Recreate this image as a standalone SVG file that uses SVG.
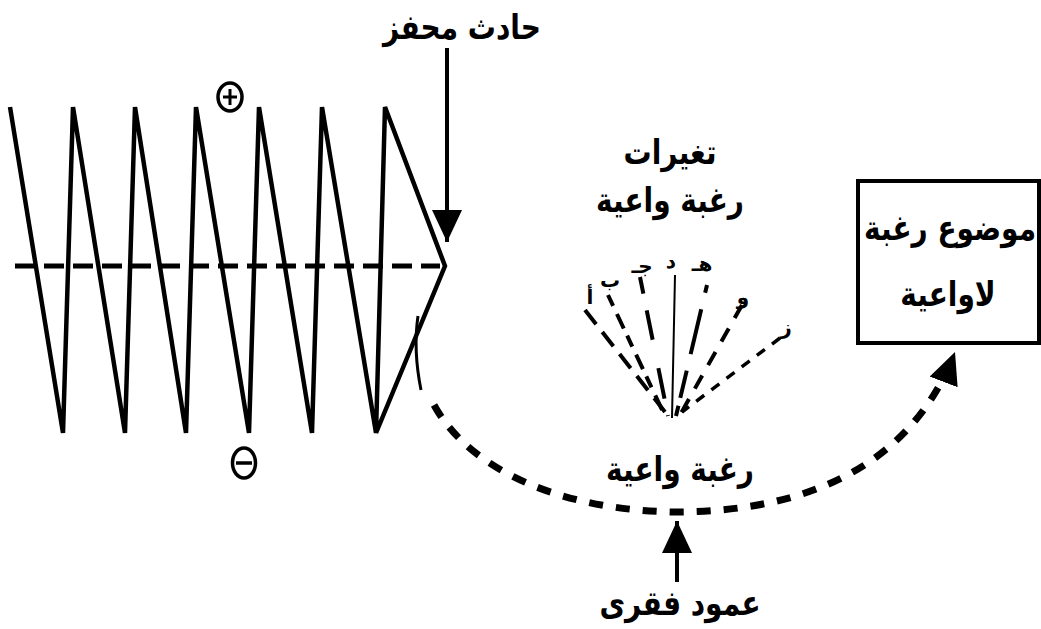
<svg xmlns="http://www.w3.org/2000/svg" width="1041" height="629" viewBox="0 0 1041 629">
<style>
  .t { font-family: "DejaVu Sans", "Noto Sans", sans-serif; font-weight: bold; fill: #000; text-anchor: middle; }
  .big { font-size: 28px; }
  .sm { font-size: 20px; }
  .ln { stroke: #000; fill: none; stroke-linecap: butt; stroke-linejoin: miter; }
</style>
<defs>
  <marker id="ah" viewBox="0 0 32 30" refX="32" refY="15" markerWidth="32" markerHeight="30" markerUnits="userSpaceOnUse" orient="auto">
    <path d="M0,0 L32,15 L0,30 z" fill="#000"/>
  </marker>
</defs>
<rect width="1041" height="629" fill="#fff"/>

<g id="zigzag">
  <polyline class="ln" stroke-width="4.5" points="10,107 63,433 73,107 125,433 135,107 186,433 196,107 249,433 259,107 312,433 322,107 376,433 385,107 445,266 376,433"/>
  <line class="ln" x1="15" y1="266" x2="440" y2="266" stroke-width="5" stroke-dasharray="20 9"/>
</g>

<g id="plus">
  <ellipse cx="230" cy="97" rx="12" ry="14" fill="none" stroke="#000" stroke-width="3.5"/>
  <line x1="223" y1="97" x2="237" y2="97" stroke="#000" stroke-width="3"/>
  <line x1="230" y1="89" x2="230" y2="105" stroke="#000" stroke-width="3"/>
</g>

<g id="minus">
  <ellipse cx="244" cy="463" rx="11.5" ry="15" fill="none" stroke="#000" stroke-width="3.5"/>
  <line x1="236" y1="463" x2="252" y2="463" stroke="#000" stroke-width="3.5"/>
</g>

<g id="trigger">
  <text class="t big" transform="translate(462,39) scale(1,1.22)">حادث محفز</text>
</g>

<g id="fan">
  <text class="t big" transform="translate(670,164) scale(1,1.22)">تغيرات</text>
  <text class="t big" transform="translate(670,212) scale(1,1.22)">رغبة واعية</text>
  <line class="ln" x1="585" y1="310" x2="665" y2="412" stroke-width="4" stroke-dasharray="18 10"/>
  <line class="ln" x1="608" y1="295" x2="664" y2="414" stroke-width="4" stroke-dasharray="12 9 16 8"/>
  <line class="ln" x1="640" y1="277" x2="668" y2="416" stroke-width="4" stroke-dasharray="17 17 30 29 31"/>
  <line class="ln" x1="675" y1="275" x2="672" y2="418" stroke-width="2"/>
  <line class="ln" x1="707" y1="285" x2="676" y2="416" stroke-width="4" stroke-dasharray="8 17 46 17 28"/>
  <line class="ln" x1="742" y1="305" x2="680" y2="415" stroke-width="4" stroke-dasharray="15 12"/>
  <line class="ln" x1="780" y1="338" x2="682" y2="412" stroke-width="3.5" stroke-dasharray="10 9"/>
  <text class="t sm" x="590" y="304">أ</text>
  <text class="t sm" x="610" y="287">ب</text>
  <text class="t sm" x="642" y="273">جـ</text>
  <text class="t sm" x="671" y="268">د</text>
  <text class="t sm" x="702" y="271">هـ</text>
  <text class="t sm" x="743" y="304">و</text>
  <text class="t sm" x="786" y="334">ز</text>
</g>

<g id="target">
  <rect x="858" y="181" width="181" height="162" fill="none" stroke="#000" stroke-width="4"/>
  <text class="t big" transform="translate(950,240) scale(1,1.22)">موضوع رغبة</text>
  <text class="t big" transform="translate(948,306) scale(1,1.22)">لاواعية</text>
</g>

<g id="conscious">
  <text class="t big" transform="translate(680,481) scale(1,1.22)">رغبة واعية</text>
</g>

<g id="spine">
  <text class="t big" transform="translate(680,615) scale(1,1.22)">عمود فقرى</text>
</g>

<g id="connectors">
  <line class="ln" x1="447" y1="48" x2="447" y2="242" stroke-width="4" marker-end="url(#ah)"/>
  <line class="ln" x1="677" y1="582" x2="677" y2="521" stroke-width="4" marker-end="url(#ah)"/>
  <path class="ln" d="M418,316 Q413,350 421,390" stroke-width="3"/>
  <path class="ln" d="M434,405 C470,470 560,510 675,512 C800,512 910,470 955,352" stroke-width="7" stroke-dasharray="14 13" marker-end="url(#ah)"/>
</g>
</svg>
